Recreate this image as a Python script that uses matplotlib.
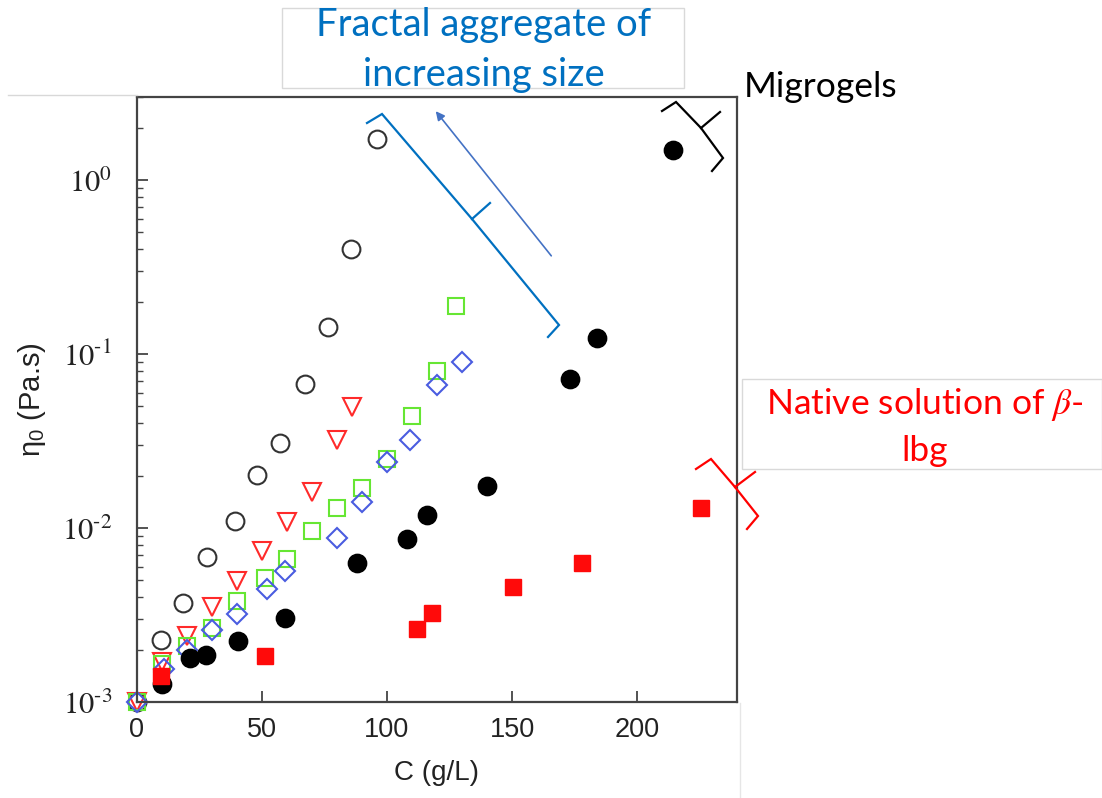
import numpy as np
import matplotlib
matplotlib.use("Agg")
import matplotlib.pyplot as plt
from matplotlib.lines import Line2D
from matplotlib.patches import Rectangle, FancyArrowPatch
from matplotlib.ticker import LogLocator, FixedFormatter, FixedLocator

plt.rcParams['mathtext.fontset'] = 'stix'

# data: concentration C (g/L) and viscosity eta0 (Pa.s)
c_open_circle = [0, 9.7, 18.5, 28, 39, 48, 57.3, 67, 76.5, 85.7, 96]
eta_open_circle = [1.0e-3, 2.27e-3, 3.69e-3, 6.8e-3, 1.1e-2, 2.03e-2, 3.1e-2, 6.7e-2, 0.143, 0.40, 1.73]

c_triangle = [0, 10, 20, 30, 40, 50, 60, 70, 80, 86]
eta_triangle = [1.0e-3, 1.7e-3, 2.4e-3, 3.53e-3, 4.96e-3, 7.4e-3, 1.08e-2, 1.62e-2, 3.2e-2, 4.97e-2]

c_square = [0, 10, 20, 30, 40, 51.3, 60, 70, 80, 90, 100, 110, 120, 127.5]
eta_square = [1.0e-3, 1.65e-3, 2.1e-3, 2.68e-3, 3.8e-3, 5.19e-3, 6.6e-3, 9.6e-3, 1.3e-2, 1.7e-2,
              2.5e-2, 4.4e-2, 8.0e-2, 0.188]

c_diamond = [0, 10.7, 20, 30, 40, 52, 59.3, 80, 90, 100, 109, 120, 130]
eta_diamond = [1.0e-3, 1.55e-3, 2.0e-3, 2.6e-3, 3.2e-3, 4.45e-3, 5.65e-3, 8.8e-3, 1.42e-2, 2.4e-2,
               3.2e-2, 6.6e-2, 9.0e-2]

c_filled_circle = [10, 21, 27.7, 40.2, 59.3, 88, 108, 116, 140, 173, 184, 214.5]
eta_filled_circle = [1.27e-3, 1.8e-3, 1.86e-3, 2.25e-3, 3.05e-3, 6.3e-3, 8.7e-3, 1.18e-2, 1.75e-2,
                     7.2e-2, 0.124, 1.48]

c_filled_square = [9.7, 51, 112, 118, 150.5, 178, 225.5]
eta_filled_square = [1.41e-3, 1.84e-3, 2.62e-3, 3.24e-3, 4.56e-3, 6.3e-3, 1.31e-2]

y_tick_values = [1e-3, 1e-2, 1e-1, 1e0]
y_tick_labels = [r'$10^{\text{-}3}$', r'$10^{\text{-}2}$', r'$10^{\text{-}1}$', r'$10^{0}$']
x_tick_values = [0, 50, 100, 150, 200]

W, H = 1102, 798
fig = plt.figure(figsize=(W / 100, H / 100), dpi=100)
ax = fig.add_axes([137 / W, 1 - 702 / H, 600 / W, 605 / H])


def fx(x):
    return x / W


def fy(y):
    return 1 - y / H


# series
ax.plot(c_open_circle, eta_open_circle, 'o', ms=12.8, mfc='none', mec='#333333', mew=1.5, clip_on=False)
ax.plot(c_triangle, eta_triangle, 'v', ms=12.5, mfc='none', mec='#ff2a2a', mew=1.5, clip_on=False)
ax.plot(c_square, eta_square, 's', ms=11.3, mfc='none', mec='#66e633', mew=1.5, clip_on=False)
ax.plot(c_diamond, eta_diamond, 'D', ms=10.3, mfc='none', mec='#4a5ce0', mew=1.5, clip_on=False)
ax.plot(c_filled_circle, eta_filled_circle, 'o', ms=13.2, color='black', clip_on=False)
ax.plot(c_filled_square, eta_filled_square, 's', ms=11.5, color='#ff0a0a', clip_on=False)

ax.set_yscale('log')
ax.set_xlim(0, 240)
ax.set_ylim(1e-3, 3.0)
ax.yaxis.set_major_locator(FixedLocator(y_tick_values))
ax.yaxis.set_major_formatter(FixedFormatter(y_tick_labels))
ax.yaxis.set_minor_locator(LogLocator(base=10, subs=np.arange(2, 10)))
ax.set_xticks(x_tick_values)

ax.tick_params(axis='both', which='both', direction='in', top=False, right=False, color='#444444')
ax.tick_params(axis='y', which='major', length=8, width=1.3, labelsize=22, pad=18)
ax.tick_params(axis='y', which='minor', length=4, width=1.0)
ax.tick_params(axis='x', which='major', length=8, width=1.3, labelsize=19.5, pad=11)
for lab in ax.get_xticklabels():
    lab.set_family('Liberation Sans')
    lab.set_color('#222222')
for lab in ax.get_yticklabels():
    lab.set_color('#222222')
for sp in ax.spines.values():
    sp.set_linewidth(1.6)
    sp.set_color('#444444')

ax.set_xlabel('C (g/L)', fontsize=20, family='Liberation Sans', color='#222222', labelpad=12)
ax.set_ylabel(r'$\mathregular{\eta_0}$ (Pa.s)', fontsize=21, family='Liberation Sans',
              color='#222222', labelpad=10)

# frame remnants of the pasted picture
fig.add_artist(Line2D([fx(8), fx(137)], [fy(95), fy(95)], color='#d8d8d8', lw=1))
fig.add_artist(Line2D([fx(740), fx(740)], [fy(703), fy(798)], color='#e6e6e6', lw=1))

# annotation boxes
fig.add_artist(Rectangle((fx(282), fy(88)), fx(684) - fx(282), fy(8) - fy(88),
                         transform=fig.transFigure, fc='white', ec='#d9d9d9', lw=1))
fig.text(fx(484), fy(36), 'Fractal aggregate of', family='Lato', fontsize=27.5,
         color='#0070c0', ha='center', va='baseline')
fig.text(fx(484), fy(86), 'increasing size', family='Lato', fontsize=27.5,
         color='#0070c0', ha='center', va='baseline')

fig.add_artist(Rectangle((fx(742), fy(469)), fx(1102) - fx(742), fy(379) - fy(469),
                         transform=fig.transFigure, fc='white', ec='#d9d9d9', lw=1))
fig.text(fx(925), fy(414), r'Native solution of $\beta$-', family='Lato', fontsize=25.5,
         color='#ff0000', ha='center', va='baseline')
fig.text(fx(925), fy(461), 'lbg', family='Lato', fontsize=25.5,
         color='#ff0000', ha='center', va='baseline')

fig.text(fx(744), fy(97), 'Migrogels', family='Lato', fontsize=25.5,
         color='black', ha='left', va='baseline')


def brace(points, mid, color):
    xs = [fx(p[0]) for p in points]
    ys = [fy(p[1]) for p in points]
    fig.add_artist(Line2D(xs, ys, color=color, lw=1.6, solid_joinstyle='miter'))
    fig.add_artist(Line2D([fx(mid[0][0]), fx(mid[1][0])], [fy(mid[0][1]), fy(mid[1][1])],
                          color=color, lw=1.6))


brace([(367, 123), (382, 114), (472, 219), (559, 325), (548, 337)],
      [(472, 219), (490, 203)], '#0070c0')
brace([(662, 111), (676, 102), (701, 128), (723, 158), (712, 171)],
      [(701, 128), (720, 112)], 'black')
brace([(696, 469), (711, 459), (735, 487), (758, 516), (747, 529)],
      [(735, 487), (755, 472)], '#ff0000')

fig.add_artist(FancyArrowPatch((fx(553), fy(258)), (fx(434), fy(109)), transform=fig.transFigure,
                               arrowstyle='-|>', mutation_scale=13, lw=1.2, color='#4472c4'))

fig.savefig('out.png', dpi=100)
